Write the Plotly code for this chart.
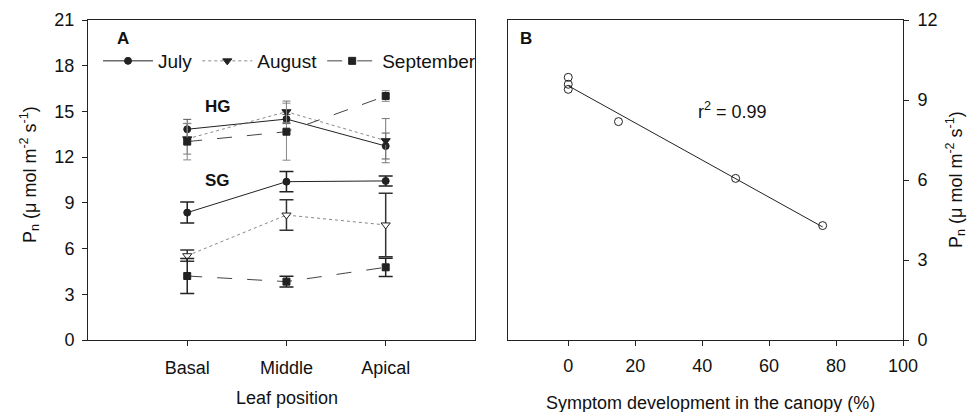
import numpy as np
import plotly.graph_objects as go

positions = ["Basal", "Middle", "Apical"]
pos_x = [1, 2, 3]

# Panel A: HG (healthy)
hg_july = [13.83, 14.50, 12.73]
hg_july_err = [0.65, 0.30, 0.85]
hg_aug = [13.20, 14.98, 13.08]
hg_aug_err = [1.00, 0.70, 1.45]
hg_sep = [13.02, 13.67, 16.01]
hg_sep_err = [1.20, 1.87, 0.35]

# Panel A: SG (symptomatic)
sg_july = [8.36, 10.39, 10.44]
sg_july_err = [0.69, 0.66, 0.33]
sg_aug = [5.53, 8.20, 7.55]
sg_aug_err = [0.37, 1.00, 2.08]
sg_sep = [4.20, 3.83, 4.77]
sg_sep_err = [1.15, 0.35, 0.60]

# Panel B
symptom = [0, 0, 0, 15, 50, 76]
pn_b = [9.85, 9.59, 9.40, 8.19, 6.06, 4.29]

yticks_a = [0, 3, 6, 9, 12, 15, 18, 21]
xticks_b = [0, 20, 40, 60, 80, 100]
yticks_b = [0, 3, 6, 9, 12]

FONT = "Liberation Sans, Arial, sans-serif"
LC = "#222222"
FS = 18

fig = go.Figure()

def add_series(y, err, name, dash, symbol, fill, show, errcolor, errw, capw, lw_color, msize):
    fig.add_trace(go.Scatter(
        x=pos_x, y=y, name=name, mode="lines+markers", showlegend=show,
        line=dict(color=lw_color, width=1, dash=dash),
        marker=dict(symbol=symbol, size=msize, color=fill, line=dict(color=LC, width=1)),
        error_y=dict(type="data", array=err, visible=True, color=errcolor,
                     thickness=errw, width=capw),
        xaxis="x", yaxis="y"))

# HG
add_series(hg_july, hg_july_err, "July", "solid", "circle", LC, True, "#555555", 1, 4, LC, 7)
add_series(hg_aug, hg_aug_err, "August", "dot", "triangle-down", LC, True, "#777777", 1, 4, "#888888", 8)
add_series(hg_sep, hg_sep_err, "September", "longdash", "square", LC, True, "#888888", 1, 4, "#444444", 7)
# SG
add_series(sg_july, sg_july_err, "July", "solid", "circle", LC, False, "#222222", 1.5, 7, LC, 7)
add_series(sg_aug, sg_aug_err, "August", "dot", "triangle-down", "white", False, "#333333", 1.5, 7, "#888888", 8)
add_series(sg_sep, sg_sep_err, "September", "longdash", "square", LC, False, "#222222", 1.5, 7, "#444444", 7)

# Panel B
slope, intercept = np.polyfit(symptom, pn_b, 1)
fit_x = np.array([min(symptom), max(symptom)])
fit_y = slope * fit_x + intercept
fig.add_trace(go.Scatter(x=fit_x, y=fit_y, mode="lines", showlegend=False,
                         line=dict(color=LC, width=1), xaxis="x2", yaxis="y2"))
fig.add_trace(go.Scatter(x=symptom, y=pn_b, mode="markers", showlegend=False,
                         marker=dict(symbol="circle-open", size=8, color=LC, line=dict(width=1)),
                         xaxis="x2", yaxis="y2"))

W, H = 968, 412
def px(x): return x / W
def py(y): return 1 - y / H

axis_common = dict(showgrid=False, zeroline=False, showline=True, linecolor=LC, linewidth=1,
                   mirror=True, ticks="outside", ticklen=5, tickcolor=LC, automargin=False,
                   tickfont=dict(family=FONT, size=FS, color="#111111"))

def ann(text, x, y, size=FS, angle=0):
    return dict(text=text, x=px(x), y=py(y), xref="paper", yref="paper", showarrow=False,
                xanchor="center", yanchor="middle", textangle=angle,
                font=dict(family=FONT, size=size, color="#111111"))

fig.update_layout(
    width=W, height=H, margin=dict(l=0, r=0, t=0, b=0, autoexpand=False),
    paper_bgcolor="white", plot_bgcolor="white",
    font=dict(family=FONT, size=FS, color="#111111"),
    xaxis=dict(domain=[px(88), px(475)], range=[0.0, 3.9], tickvals=pos_x, ticktext=positions,
               anchor="y", ticklabelstandoff=6, **axis_common),
    yaxis=dict(domain=[py(340), py(20)], range=[0, 21], tickvals=yticks_a, anchor="x",
               ticklabelstandoff=4, **axis_common),
    xaxis2=dict(domain=[px(508), px(903)], range=[-18, 100], tickvals=xticks_b, anchor="y2",
                ticklabelstandoff=4, **axis_common),
    yaxis2=dict(domain=[py(340), py(20)], range=[0, 12], tickvals=yticks_b, anchor="x2",
                side="right", ticklabelstandoff=5, **axis_common),
    legend=dict(orientation="h", x=px(98), y=py(61), xanchor="left", yanchor="middle",
                bgcolor="rgba(0,0,0,0)", font=dict(family=FONT, size=19),
                itemwidth=50, tracegroupgap=0),
    annotations=[
        ann("<b>A</b>", 123, 39, 17),
        ann("<b>B</b>", 526, 39, 17),
        ann("<b>HG</b>", 218, 106, 17),
        ann("<b>SG</b>", 217, 180, 17),
        ann("r<sup>2</sup> = 0.99", 732, 110),
        ann("Leaf position", 287, 398),
        ann("Symptom development in the canopy (%)", 710, 403),
        ann("P<sub>n</sub> (μ mol m<sup>-2</sup> s<sup>-1</sup>)", 30, 175, angle=-90),
        ann("P<sub>n</sub> (μ mol m<sup>-2</sup> s<sup>-1</sup>)", 955, 180, angle=-90),
    ],
)

fig.write_html("out.html")
